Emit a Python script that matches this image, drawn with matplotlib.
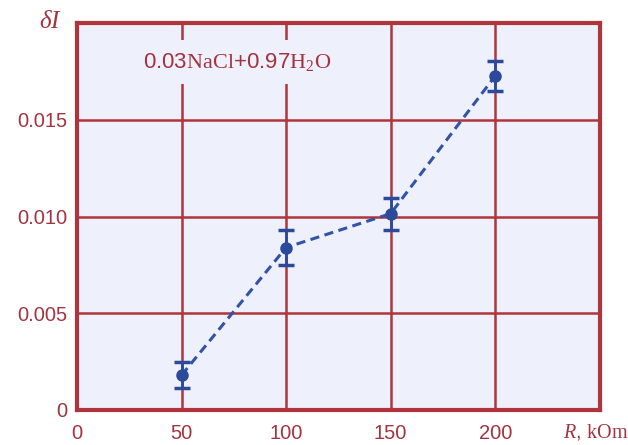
import matplotlib
matplotlib.use('Agg')
from matplotlib import pyplot as plt

# resistance, kOm
R = [50, 100, 150, 200]
# intensity change and its error
dI = [0.0018, 0.0084, 0.01015, 0.01727]
dI_err = [0.00068, 0.00088, 0.00082, 0.00077]

x_ticks = [0, 50, 100, 150, 200]
y_ticks = [0, 0.005, 0.010, 0.015]
y_labels = ['0', '0.005', '0.010', '0.015']

red = '#b0343c'
txt = '#a3333f'
blue = '#2b4a9c'
bg = '#eef1fb'

plt.rcParams['font.family'] = ['Liberation Sans', 'DejaVu Sans']
plt.rcParams['mathtext.fontset'] = 'custom'
plt.rcParams['mathtext.rm'] = 'Liberation Serif'
plt.rcParams['mathtext.it'] = 'Liberation Serif:italic'

fig = plt.figure(figsize=(6.28, 4.45), dpi=100)
ax = fig.add_axes([0.1226, 0.0787, 0.8324, 0.8693])
ax.set_facecolor(bg)

ax.set_xlim(0, 250)
ax.set_ylim(0, 0.020)

# grid lines by hand so the label box can cover them
for x in [50, 100, 150, 200]:
    ax.axvline(x, color=red, lw=1.8, zorder=1)
for y in [0.005, 0.010, 0.015]:
    ax.axhline(y, color=red, lw=1.8, zorder=1)

ax.plot(R, dI, ls=(0, (3, 1.8)), color='#3352a8', lw=2.2, zorder=3)
ax.errorbar(R, dI, yerr=dI_err, fmt='o', color=blue, ms=8, capsize=6,
            capthick=2.5, elinewidth=2, zorder=4)

for s in ax.spines.values():
    s.set_color(red)
    s.set_linewidth(3)

ax.set_xticks(x_ticks)
ax.set_yticks(y_ticks)
ax.set_yticklabels(y_labels)
ax.tick_params(length=0, labelsize=14.5, labelcolor=txt)
ax.tick_params(axis='x', pad=10)
ax.tick_params(axis='y', pad=7)

ax.text(0.306, 0.899, r'0.03$\mathrm{NaCl}$+0.97$\mathrm{H_2O}$', transform=ax.transAxes,
        ha='center', va='center', fontsize=16, color=txt, zorder=5,
        bbox=dict(facecolor=bg, edgecolor='none', pad=8))

fig.text(0.080, 0.953, r'$\delta I$', ha='center', va='center', fontsize=18, color=txt)
fig.text(0.949, 0.029, r'$R$, $\mathrm{kOm}$', ha='center', va='center', fontsize=14.5, color=txt)

plt.savefig('out.png', dpi=100)
